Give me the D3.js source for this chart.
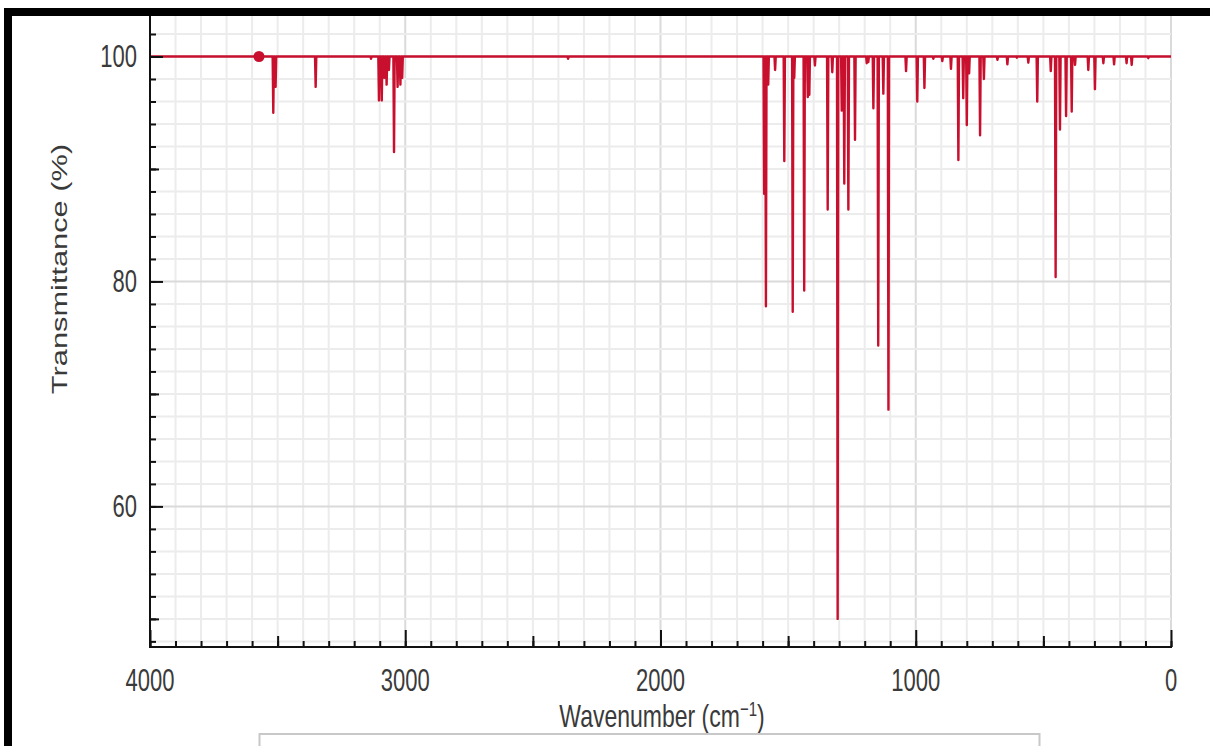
<!DOCTYPE html>
<html>
<head>
<meta charset="utf-8">
<script src="https://cdn.jsdelivr.net/npm/d3@7"></script>
<style>
  html, body { margin: 0; padding: 0; background: #fff; }
  svg { display: block; }
  text { font-family: "Liberation Sans", Arial, sans-serif; fill: #3a3a3a; }
</style>
</head>
<body>
<div class="canvas"></div>
<script>
// peak positions (cm-1) and their transmittance minima (%)
const peakWavenumbers = [3517, 3508, 3351, 3134, 3103, 3092, 3082, 3073, 3064, 3044, 3030, 3019, 3012, 2362,
  1594, 1587, 1578, 1551, 1515, 1482, 1476, 1437, 1423, 1417, 1395, 1345, 1327, 1306, 1290, 1280, 1264, 1238,
  1192, 1186, 1166, 1147, 1127, 1107, 1038, 994, 966, 931, 896, 862, 833, 814, 800, 791, 748, 733, 680, 641,
  604, 559, 524, 471, 452, 435, 411, 389, 376, 324, 298, 265, 223, 174, 154, 89];
const peakTransmittance = [95.0, 97.3, 97.3, 99.8, 96.1, 96.1, 98.1, 97.5, 98.8, 91.5, 97.3, 97.5, 98.1, 99.8,
  87.8, 77.8, 97.5, 98.8, 90.7, 77.3, 98.1, 79.2, 96.4, 96.6, 99.2, 86.4, 98.6, 50.0, 95.2, 88.7, 86.4, 92.6,
  99.4, 99.5, 95.4, 74.3, 96.7, 68.6, 98.7, 96.0, 97.2, 99.8, 99.6, 98.9, 90.8, 96.3, 93.9, 98.5, 93.0, 98.0, 99.7, 99.3,
  99.9, 99.45, 96.0, 98.7, 80.4, 93.5, 94.7, 95.1, 99.25, 98.8, 97.1, 99.4, 99.3, 99.4, 99.25, 99.85];
const baseline = 100;
const markerPoint = { wavenumber: 3573, value: 100 };
const xTickLabels = [4000, 3000, 2000, 1000, 0];
const yTickLabels = [100, 80, 60];

const dims = { width: 1210, height: 746 };
const plot = { left: 150, right: 1171, top: 16, bottom: 647 };
const red = '#c8102e';
const stretch = 1.4; // glyphs look stretched vertically

const svg = d3.select('.canvas')
  .append('svg')
  .attr('width', dims.width)
  .attr('height', dims.height);

const x = d3.scaleLinear().domain([4000, 0]).range([plot.left, plot.right]);
const y = d3.scaleLinear().domain([47.5, 103.6]).range([plot.bottom, plot.top]);

// grid
const grid = svg.append('g');
grid.selectAll('.vgrid')
  .data(d3.range(0, 4001, 100))
  .enter().append('line')
    .attr('x1', d => x(d)).attr('x2', d => x(d))
    .attr('y1', plot.top).attr('y2', plot.bottom)
    .attr('stroke', d => d % 1000 === 0 ? '#dadada' : '#ececec')
    .attr('stroke-width', 2);
grid.selectAll('.hgrid')
  .data(d3.range(48, 104, 2))
  .enter().append('line')
    .attr('x1', plot.left).attr('x2', plot.right)
    .attr('y1', d => y(d)).attr('y2', d => y(d))
    .attr('stroke', d => d % 20 === 0 ? '#dadada' : '#ececec')
    .attr('stroke-width', 2);

// spectrum: flat baseline with a sharp dip at each peak
const order = d3.range(peakWavenumbers.length).sort((a, b) => peakWavenumbers[b] - peakWavenumbers[a]);
const pts = [[4000, baseline]];
order.forEach(i => {
  const w = peakWavenumbers[i];
  pts.push([w + 2.5, baseline], [w, peakTransmittance[i]], [w - 2.5, baseline]);
});
pts.push([0, baseline]);

const line = d3.line().x(d => x(d[0])).y(d => y(d[1]));
svg.append('path')
  .attr('d', line(pts))
  .attr('fill', 'none')
  .attr('stroke', red)
  .attr('stroke-width', 2.4)
  .attr('stroke-linejoin', 'round');

svg.append('circle')
  .attr('cx', x(markerPoint.wavenumber))
  .attr('cy', y(markerPoint.value))
  .attr('r', 5.5)
  .attr('fill', red);

// axes (ticks point inward, three lengths)
const xAxisG = svg.append('g').attr('transform', `translate(0, ${plot.bottom})`);
[[d3.range(0, 4001, 100), 6], [d3.range(500, 4000, 1000), 11], [xTickLabels, 17]].forEach(([vals, len]) => {
  xAxisG.append('g')
    .call(d3.axisBottom(x).tickValues(vals).tickSize(-len).tickFormat(''))
    .call(g => g.selectAll('line').attr('stroke', '#111').attr('stroke-width', 2))
    .call(g => g.select('.domain').remove());
});
xAxisG.append('line')
  .attr('x1', plot.left - 1).attr('x2', plot.right + 1)
  .attr('stroke', '#111').attr('stroke-width', 2);

const yAxisG = svg.append('g').attr('transform', `translate(${plot.left}, 0)`);
[[d3.range(48, 104, 2), 6], [[50, 70, 90], 9], [yTickLabels, 13]].forEach(([vals, len]) => {
  yAxisG.append('g')
    .call(d3.axisLeft(y).tickValues(vals).tickSize(-len).tickFormat(''))
    .call(g => g.selectAll('line').attr('stroke', '#111').attr('stroke-width', 2))
    .call(g => g.select('.domain').remove());
});
yAxisG.append('line')
  .attr('y1', plot.top).attr('y2', plot.bottom + 1)
  .attr('stroke', '#111').attr('stroke-width', 2);

// tick labels
svg.selectAll('.xlabel')
  .data(xTickLabels)
  .enter().append('text')
    .attr('transform', d => `translate(${x(d)}, 691) scale(1, ${stretch})`)
    .attr('text-anchor', 'middle')
    .style('font-size', '22px')
    .text(d => d);

svg.selectAll('.ylabel')
  .data(yTickLabels)
  .enter().append('text')
    .attr('transform', d => `translate(137, ${y(d) + 11}) scale(1, ${stretch})`)
    .attr('text-anchor', 'end')
    .style('font-size', '22px')
    .text(d => d);

// axis titles
const xTitle = svg.append('text')
  .attr('transform', `translate(662, 727) scale(1, ${stretch})`)
  .attr('text-anchor', 'middle')
  .style('font-size', '23px');
xTitle.append('tspan').text('Wavenumber (cm');
xTitle.append('tspan').attr('dy', -8).style('font-size', '15px').text('\u22121');
xTitle.append('tspan').attr('dy', 8).text(')');

svg.append('text')
  .attr('transform', `translate(67, 269) rotate(-90) scale(${stretch}, 1)`)
  .attr('text-anchor', 'middle')
  .style('font-size', '22px')
  .text('Transmittance (%)');

// cut-off legend box under the chart
svg.append('rect')
  .attr('x', 259.5).attr('y', 734)
  .attr('width', 780).attr('height', 40)
  .attr('fill', 'none')
  .attr('stroke', '#c8c8c8')
  .attr('stroke-width', 2);

// black frame
svg.append('rect').attr('x', 4).attr('y', 8).attr('width', dims.width - 4).attr('height', 8).attr('fill', '#000');
svg.append('rect').attr('x', 4).attr('y', 8).attr('width', 8).attr('height', dims.height - 8).attr('fill', '#000');
</script>
</body>
</html>
